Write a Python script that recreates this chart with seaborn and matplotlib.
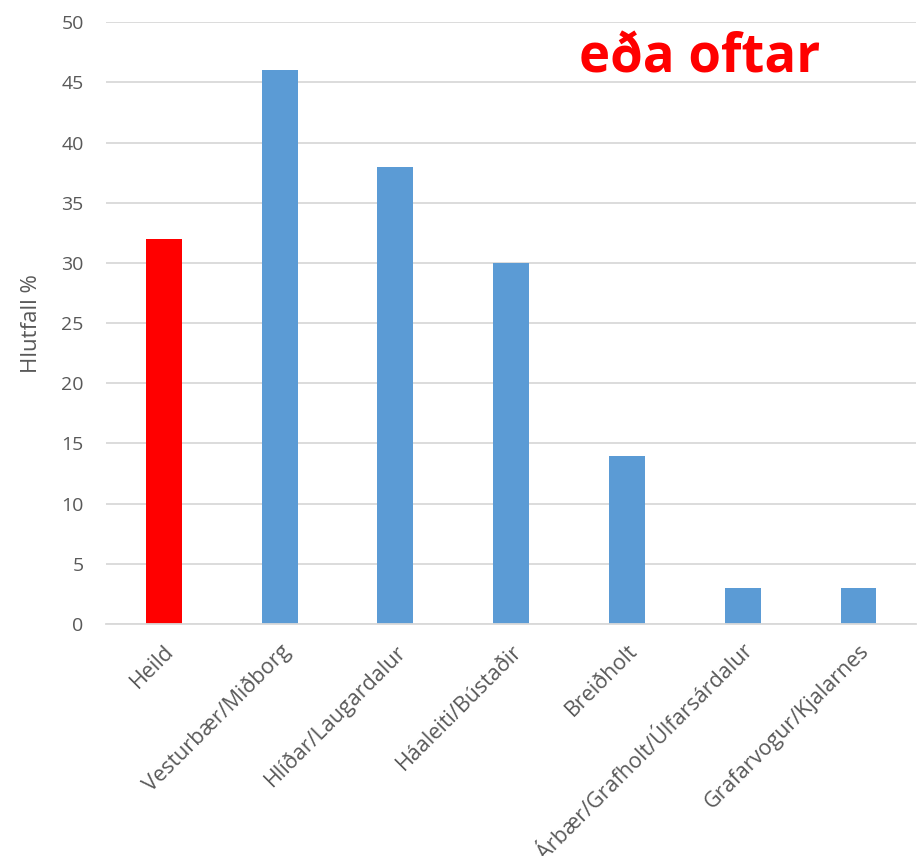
import pandas as pd
import matplotlib.pyplot as plt
import seaborn as sns

hverfi = ["Heild", "Vesturbær/Miðborg", "Hlíðar/Laugardalur", "Háaleiti/Bústaðir",
          "Breiðholt", "Árbær/Grafholt/Úlfarsárdalur", "Grafarvogur/Kjalarnes"]
hlutfall = [32, 46, 38, 30, 14, 3, 3]
litir = ["#FF0000", "#5B9BD5", "#5B9BD5", "#5B9BD5", "#5B9BD5", "#5B9BD5", "#5B9BD5"]

df = pd.DataFrame({"hverfi": hverfi, "hlutfall": hlutfall})

sns.set_theme(style="white")
plt.rcParams["font.family"] = ["Open Sans", "DejaVu Sans"]

fig = plt.figure(figsize=(9.21, 8.56), dpi=100)
ax = fig.add_axes([0.115, 0.271, 0.88, 0.703])

sns.barplot(x="hverfi", y="hlutfall", data=df, hue="hverfi", palette=litir,
            legend=False, width=0.31, saturation=1, linewidth=0, ax=ax)

ax.set_ylim(0, 50)
ax.set_xlim(-0.5, 6.5)
ax.set_yticks(range(0, 51, 5))
ax.yaxis.grid(True, color="#D9D9D9", linewidth=1.3)
ax.set_axisbelow(True)
for s in ["top", "right", "left"]:
    ax.spines[s].set_visible(False)
ax.spines["bottom"].set_color("#D9D9D9")
ax.spines["bottom"].set_linewidth(1.3)

ax.tick_params(axis="y", length=0, labelsize=14, colors="#595959", pad=16)
ax.tick_params(axis="x", length=0, labelsize=15.5, colors="#595959", pad=12)
plt.setp(ax.get_xticklabels(), rotation=45, ha="right", rotation_mode="anchor")
ax.set_xlabel("")
ax.set_ylabel("Hlutfall %", fontsize=16, color="#595959", labelpad=14)

ax.text(0.732, 0.94, "eða oftar", transform=ax.transAxes, color="#FF0000",
        fontsize=38, fontweight="bold", ha="center", va="center")

fig.savefig("out.png", dpi=100)
